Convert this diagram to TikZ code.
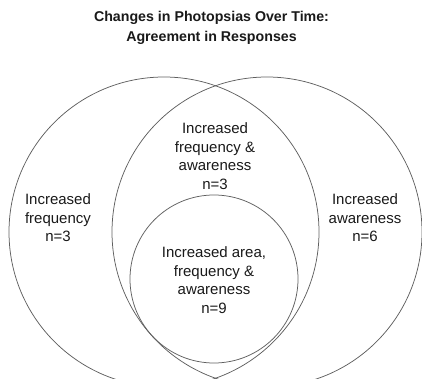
\documentclass[tikz,border=0pt]{standalone}
\usepackage{fontspec}
\setmainfont{Liberation Sans}
\definecolor{linegray}{RGB}{95,95,95}
\definecolor{textgray}{RGB}{25,25,25}
\begin{document}
\begin{tikzpicture}[x=1pt,y=-1pt,
  venn/.style={circle,draw=linegray,line width=0.75pt,inner sep=0pt},
  lbl/.style={align=center,text=textgray,inner sep=0pt,font=\fontsize{15}{18.5}\selectfont},
  ttl/.style={align=center,text=textgray,inner sep=0pt,font=\bfseries\fontsize{14.2}{19.5}\selectfont}]
\useasboundingbox (0,0) rectangle (422,379);
\begin{scope}
\clip (0,0) rectangle (422,379);
\node[venn,minimum size=310pt] (cL) at (164,232) {};
\node[venn,minimum size=310pt] (cR) at (267,232) {};
\node[venn,minimum size=168pt] (cS) at (214,279) {};
\end{scope}
\node[ttl] (title) at (211.5,28) {Changes in Photopsias Over Time:\\Agreement in Responses};
\node[lbl] (topmid) at (215,156) {Increased\\frequency \&\\awareness\\n=3};
\node[lbl] (left) at (58,218) {Increased\\frequency\\n=3};
\node[lbl] (right) at (365,218) {Increased\\awareness\\n=6};
\node[lbl] (inner) at (214,280) {Increased area,\\frequency \&\\awareness\\n=9};
\end{tikzpicture}
\end{document}
